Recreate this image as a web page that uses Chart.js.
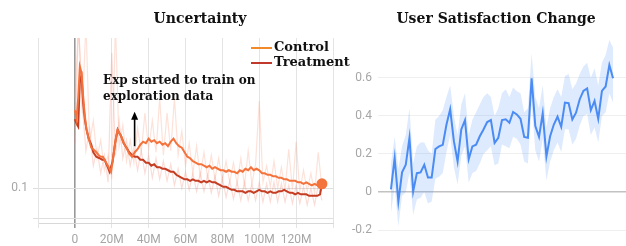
<!DOCTYPE html>
<html>
<head>
<meta charset="utf-8">
<script src="https://cdn.jsdelivr.net/npm/chart.js@4.4.1/dist/chart.umd.min.js"></script>
<style>
  body { margin: 0; background: #fff; width: 626px; height: 246px; position: relative; overflow: hidden; }
  canvas { position: absolute; top: 0; }
  #left { left: 0; }
  #right { left: 345px; }
  .title { position: absolute; top: 10px; font: bold 14px "DejaVu Serif", serif; color: #111; white-space: nowrap; transform: translateX(-50%); }
  .note { position: absolute; left: 103px; top: 72px; font: bold 12px/16px "DejaVu Serif", serif; color: #111; white-space: nowrap; }
  .leg { position: absolute; left: 251px; font: bold 13px "DejaVu Serif", serif; color: #111; white-space: nowrap; }
  .leg span { display: inline-block; width: 21px; height: 2px; vertical-align: middle; margin-right: 2px; }
</style>
</head>
<body>
<canvas id="left" width="345" height="246"></canvas>
<canvas id="right" width="281" height="246"></canvas>
<div class="title" style="left:200px">Uncertainty</div>
<div class="title" style="left:496px">User Satisfaction Change</div>
<div class="note">Exp started to train on<br>exploration data</div>
<div class="leg" style="top:39px"><span style="background:#f2892a"></span>Control</div>
<div class="leg" style="top:54px"><span style="background:#c0392b"></span>Treatment</div>
<script>
// Uncertainty (left) - smoothed curves, x in millions of steps
const ctrlX = [0, 0.9, 1.8, 2.7, 3.6, 4.5, 5.4, 6.2, 7.1, 8, 8.9, 10, 11.6, 13, 14, 15.2, 16.5, 17.9, 19.6, 20.5, 21.4, 22.3, 23.2, 24,
    25, 26.5, 28, 29.5, 31, 32.5, 34, 35.5, 37, 38.5, 40, 41.5, 43, 44.5, 46, 47.5, 49, 50.5, 52, 53.5, 55, 56.5, 58, 59.5, 61, 62.5,
    64, 65.5, 67, 68.5, 70, 71.5, 73, 74.5, 76, 77.5, 79, 80.5, 82, 83.5, 85, 86.5, 88, 89.5, 91, 92.5, 94, 95.5, 97, 98.5, 100,
    101.5, 103, 104.5, 106, 107.5, 109, 110.5, 112, 113.5, 115, 116.5, 118, 119.5, 121, 122.5, 124, 125.5, 127, 128.5, 130, 131.5, 133, 134];
const ctrlY = [0.152, 0.146, 0.160, 0.181, 0.177, 0.161, 0.148, 0.140, 0.135, 0.131, 0.127, 0.126, 0.124, 0.122, 0.121, 0.121, 0.118, 0.115, 0.111, 0.118, 0.126, 0.134, 0.139, 0.137,
    0.135, 0.130, 0.127, 0.123, 0.121, 0.124, 0.126, 0.129, 0.131, 0.130, 0.133, 0.131, 0.132, 0.130, 0.131, 0.129, 0.130, 0.128, 0.131, 0.133, 0.130, 0.128, 0.127, 0.124, 0.121, 0.120,
    0.118, 0.117, 0.116, 0.116, 0.115, 0.114, 0.115, 0.113, 0.114, 0.113, 0.112, 0.112, 0.111, 0.112, 0.111, 0.111, 0.110, 0.112, 0.111, 0.113, 0.112, 0.114, 0.112, 0.113, 0.112,
    0.110, 0.110, 0.109, 0.109, 0.108, 0.108, 0.107, 0.107, 0.106, 0.106, 0.105, 0.105, 0.105, 0.104, 0.104, 0.103, 0.104, 0.103, 0.102, 0.103, 0.102, 0.103, 0.103];
const trtX = [0, 0.9, 1.8, 2.7, 3.6, 4.5, 5.4, 6.3, 7.5, 8.9, 10, 11.6, 13.4, 14.8, 16.1, 17.5, 18.8, 20.5, 21.8, 23.2, 24,
    25, 26.5, 28, 29.5, 31, 32.5, 34, 35.5, 37, 38.5, 40, 41.5, 43, 44.5, 46, 47.5, 49, 50.5, 52, 53.5, 55, 56.5, 58, 59.5, 61, 62.5,
    64, 65.5, 67, 68.5, 70, 71.5, 73, 74.5, 76, 77.5, 79, 80.5, 82, 83.5, 85, 86.5, 88, 89.5, 91, 92.5, 94, 95.5, 97, 98.5, 100,
    101.5, 103, 104.5, 106, 107.5, 109, 110.5, 112, 113.5, 115, 116.5, 118, 119.5, 121, 122.5, 124, 125.5, 127, 128.5, 130, 131.5, 133, 134];
const trtY = [0.146, 0.143, 0.141, 0.172, 0.175, 0.157, 0.146, 0.139, 0.133, 0.129, 0.124, 0.121, 0.120, 0.119, 0.119, 0.115, 0.111, 0.118, 0.130, 0.139, 0.137,
    0.135, 0.130, 0.127, 0.124, 0.122, 0.121, 0.121, 0.119, 0.119, 0.117, 0.117, 0.115, 0.116, 0.114, 0.114, 0.113, 0.113, 0.112, 0.111, 0.111, 0.109, 0.108, 0.107, 0.106, 0.106, 0.105,
    0.106, 0.105, 0.105, 0.104, 0.105, 0.104, 0.105, 0.104, 0.104, 0.103, 0.102, 0.101, 0.101, 0.100, 0.099, 0.099, 0.098, 0.098, 0.098, 0.097, 0.098, 0.098, 0.097, 0.098, 0.099,
    0.098, 0.098, 0.097, 0.098, 0.097, 0.097, 0.098, 0.098, 0.099, 0.098, 0.097, 0.097, 0.096, 0.097, 0.096, 0.096, 0.096, 0.095, 0.095, 0.095, 0.095, 0.096, 0.103];

// raw (unsmoothed) values behind the curves
const rawX = [0, 2, 4, 6, 8, 10, 12, 14, 16, 18, 20, 22, 24, 26, 28, 30, 32, 34, 36, 38, 40, 42, 44, 46, 48, 50, 52, 54, 56, 58, 60, 62, 64, 66, 68, 70, 72, 74, 76, 78, 80, 82, 84, 86, 88, 90, 92, 94, 96, 98, 100, 102, 104, 106, 108, 110, 112, 114, 116, 118, 120, 122, 124, 126, 128, 130, 132, 134];
const rawCtrl = [0.16, 0.21, 0.15, 0.21, 0.13, 0.145, 0.12, 0.132, 0.112, 0.122, 0.106, 0.21, 0.128, 0.142, 0.118, 0.132, 0.117, 0.14, 0.124, 0.15, 0.126, 0.145, 0.124, 0.16, 0.122, 0.15, 0.125, 0.16, 0.122, 0.138, 0.115, 0.13, 0.11, 0.128, 0.108, 0.124, 0.107, 0.122, 0.106, 0.12, 0.105, 0.118, 0.104, 0.117, 0.103, 0.12, 0.102, 0.125, 0.103, 0.116, 0.158, 0.104, 0.115, 0.101, 0.118, 0.1, 0.114, 0.099, 0.126, 0.099, 0.131, 0.098, 0.112, 0.098, 0.11, 0.097, 0.124, 0.1];
const rawTrt = [0.13, 0.21, 0.155, 0.125, 0.14, 0.115, 0.126, 0.11, 0.122, 0.104, 0.19, 0.122, 0.145, 0.12, 0.132, 0.115, 0.127, 0.112, 0.125, 0.11, 0.122, 0.107, 0.12, 0.106, 0.118, 0.105, 0.116, 0.102, 0.113, 0.1, 0.111, 0.099, 0.11, 0.098, 0.11, 0.098, 0.109, 0.097, 0.108, 0.095, 0.107, 0.094, 0.105, 0.093, 0.104, 0.092, 0.104, 0.092, 0.103, 0.092, 0.104, 0.091, 0.103, 0.091, 0.104, 0.091, 0.103, 0.091, 0.102, 0.09, 0.102, 0.09, 0.101, 0.089, 0.1, 0.089, 0.102, 0.092];

const leftYTicks = [0.08, 0.1];
const arrowAt = { x: 32.4, from: 0.128, to: 0.151 };

// User satisfaction change (right)
const satSteps = [0, 1, 2, 3, 4, 5, 6, 7, 8, 9, 10, 11, 12, 13, 14, 15, 16, 17, 18, 19, 20, 21, 22, 23, 24, 25, 26, 27, 28, 29, 30, 31, 32, 33, 34, 35, 36, 37, 38, 39, 40, 41, 42, 43, 44, 45, 46, 47, 48, 49, 50, 51, 52, 53, 54, 55, 56, 57, 58, 59, 60];
const satMean = [0.014, 0.179, -0.051, 0.103, 0.143, 0.285, 0.002, 0.099, 0.103, 0.143, 0.076, 0.076, 0.226, 0.240, 0.248, 0.355, 0.435, 0.267, 0.161, 0.329, 0.378, 0.173, 0.240, 0.249, 0.293, 0.329, 0.368, 0.378, 0.258, 0.285, 0.378, 0.382, 0.364, 0.421, 0.408, 0.385, 0.290, 0.285, 0.598, 0.347, 0.290, 0.414, 0.187, 0.293, 0.355, 0.396, 0.343, 0.470, 0.467, 0.382, 0.417, 0.488, 0.532, 0.545, 0.431, 0.479, 0.385, 0.532, 0.555, 0.668, 0.598];
const satUpper = [0.15, 0.29, 0.12, 0.24, 0.30, 0.44, 0.15, 0.24, 0.26, 0.26, 0.22, 0.20, 0.38, 0.40, 0.43, 0.50, 0.56, 0.40, 0.30, 0.46, 0.52, 0.30, 0.38, 0.42, 0.46, 0.50, 0.52, 0.50, 0.40, 0.44, 0.52, 0.54, 0.50, 0.55, 0.53, 0.52, 0.42, 0.44, 0.73, 0.50, 0.44, 0.56, 0.34, 0.44, 0.50, 0.54, 0.50, 0.61, 0.62, 0.54, 0.57, 0.62, 0.66, 0.68, 0.60, 0.65, 0.56, 0.68, 0.72, 0.80, 0.76];
const satLower = [-0.11, 0.03, -0.18, -0.02, 0.00, 0.10, -0.12, -0.04, -0.03, 0.00, -0.06, -0.05, 0.07, 0.08, 0.10, 0.21, 0.30, 0.13, 0.04, 0.19, 0.24, 0.05, 0.10, 0.11, 0.15, 0.20, 0.22, 0.24, 0.14, 0.15, 0.25, 0.24, 0.23, 0.29, 0.28, 0.25, 0.16, 0.15, 0.46, 0.22, 0.16, 0.28, 0.06, 0.16, 0.22, 0.26, 0.21, 0.33, 0.33, 0.25, 0.28, 0.35, 0.40, 0.41, 0.30, 0.34, 0.26, 0.40, 0.42, 0.52, 0.47];
const rightYTicks = [-0.2, 0, 0.2, 0.4, 0.6];

const tickFont = { family: 'Roboto, "Liberation Sans", sans-serif', size: 12 };
const tickColor = '#a6a6a6';

function pts(xs, ys) {
    return xs.map((x, i) => ({ x: x, y: ys[i] }));
}

const arrowPlugin = {
    id: 'arrow',
    afterDatasetsDraw(chart) {
        const ctx = chart.ctx;
        const x = chart.scales.x.getPixelForValue(arrowAt.x);
        const y0 = chart.scales.y.getPixelForValue(arrowAt.from);
        const y1 = chart.scales.y.getPixelForValue(arrowAt.to);
        ctx.save();
        ctx.strokeStyle = '#000';
        ctx.fillStyle = '#000';
        ctx.lineWidth = 1.6;
        ctx.beginPath();
        ctx.moveTo(x, y0);
        ctx.lineTo(x, y1 + 6);
        ctx.stroke();
        ctx.beginPath();
        ctx.moveTo(x, y1);
        ctx.lineTo(x - 3.5, y1 + 8);
        ctx.lineTo(x + 3.5, y1 + 8);
        ctx.closePath();
        ctx.fill();
        ctx.restore();
    }
};

const lastIdx = ctrlX.length - 1;

new Chart(document.getElementById('left'), {
    type: 'line',
    data: {
        datasets: [
            {
                data: pts(ctrlX, ctrlY),
                borderColor: '#f4733c',
                backgroundColor: '#f4733c',
                borderWidth: 2,
                pointRadius: ctrlX.map((x, i) => i === lastIdx ? 4.5 : 0),
                tension: 0
            },
            {
                data: pts(trtX, trtY),
                borderColor: '#c53d22',
                borderWidth: 2,
                pointRadius: 0,
                tension: 0
            },
            {
                data: pts(rawX, rawCtrl),
                borderColor: 'rgba(248,150,120,0.28)',
                borderWidth: 1.2,
                pointRadius: 0
            },
            {
                data: pts(rawX, rawTrt),
                borderColor: 'rgba(240,130,110,0.28)',
                borderWidth: 1.2,
                pointRadius: 0
            }
        ]
    },
    options: {
        responsive: false,
        animation: false,
        layout: { padding: { top: 38, right: 12, left: 0, bottom: 0 } },
        plugins: { legend: { display: false }, tooltip: { enabled: false } },
        scales: {
            x: {
                type: 'linear',
                min: -20,
                max: 140,
                afterFit: (axis) => { axis.height = 23; },
                ticks: {
                    stepSize: 20,
                    padding: 5,
                    maxRotation: 0,
                    font: tickFont,
                    color: tickColor,
                    callback: (v) => (v < 0 || v > 120) ? '' : (v === 0 ? '0' : v + 'M')
                },
                grid: {
                    tickLength: 5,
                    color: (c) => c.tick && c.tick.value === 0 ? '#999' : '#e4e4e4',
                    lineWidth: (c) => c.tick && c.tick.value === 0 ? 1.6 : 1
                },
                border: { color: '#d8d8d8' }
            },
            y: {
                min: 0.0769,
                max: 0.2,
                afterFit: (axis) => { axis.width = 38; },
                afterBuildTicks: (axis) => { axis.ticks = leftYTicks.map(v => ({ value: v })); },
                ticks: {
                    padding: 5,
                    font: tickFont,
                    color: tickColor,
                    callback: (v) => v === 0.1 ? '0.1' : ''
                },
                grid: { tickLength: 5, color: '#dedede' },
                border: { color: '#e4e4e4' }
            }
        }
    },
    plugins: [arrowPlugin]
});

new Chart(document.getElementById('right'), {
    type: 'line',
    data: {
        labels: satSteps,
        datasets: [
            {
                data: pts(satSteps, satMean),
                borderColor: '#4a8cf3',
                borderWidth: 2,
                pointRadius: 0,
                tension: 0,
                fill: false
            },
            {
                data: pts(satSteps, satUpper),
                borderWidth: 0,
                pointRadius: 0,
                backgroundColor: 'rgba(74,140,243,0.18)',
                fill: '+1'
            },
            {
                data: pts(satSteps, satLower),
                borderWidth: 0,
                pointRadius: 0,
                fill: false
            }
        ]
    },
    options: {
        responsive: false,
        animation: false,
        layout: { padding: { top: 38, right: 0, left: 0, bottom: 16 } },
        plugins: { legend: { display: false }, tooltip: { enabled: false } },
        scales: {
            x: { type: 'linear', min: -3.5, max: 63.5, display: false },
            y: {
                min: -0.2,
                max: 0.81,
                afterFit: (axis) => { axis.width = 33; },
                afterBuildTicks: (axis) => { axis.ticks = rightYTicks.map(v => ({ value: v })); },
                ticks: {
                    padding: 6,
                    font: tickFont,
                    color: tickColor,
                    callback: (v) => v === 0 ? '0' : v.toFixed(1)
                },
                grid: {
                    drawTicks: false,
                    color: (c) => c.tick && c.tick.value === 0 ? '#c2c2c2' : '#efefef',
                    lineWidth: (c) => c.tick && c.tick.value === 0 ? 1.6 : 1
                },
                border: { display: false }
            }
        }
    }
});
</script>
</body>
</html>
